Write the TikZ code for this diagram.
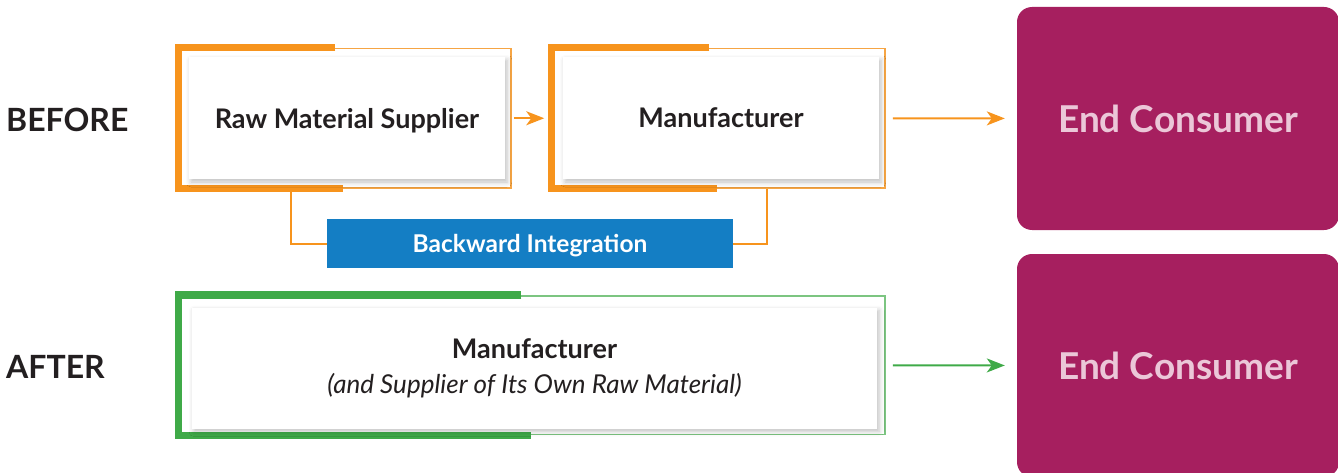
\documentclass[tikz,border=0pt]{standalone}
\usepackage{fontspec}
\setmainfont{Lato}
\usetikzlibrary{shadows.blur,arrows.meta}
\definecolor{orangebar}{HTML}{F7941D}
\definecolor{orangeline}{HTML}{F6A544}
\definecolor{greenbar}{HTML}{3FAA48}
\definecolor{greenline}{HTML}{7CC581}
\definecolor{bluebar}{HTML}{147EC4}
\definecolor{plum}{HTML}{A61F5F}
\definecolor{pinktext}{HTML}{EBC7D8}
\definecolor{ink}{HTML}{231F20}
\begin{document}
\begin{tikzpicture}[x=1pt,y=-1pt]
		\tikzstyle{frame}=[draw,line width=1.5pt,inner sep=0pt]
		\tikzstyle{bracket}=[line width=7.5pt,line cap=butt,line join=miter]
		\tikzstyle{card}=[fill=white,inner sep=0pt,align=center,text=ink,
			blur shadow={shadow xshift=2pt,shadow yshift=-3pt,shadow blur radius=5pt,shadow opacity=25}]
		\tikzstyle{consumer}=[fill=plum,rounded corners=15pt,minimum width=322pt,
			minimum height=223pt,text=pinktext,text depth=0pt,font=\fontsize{37}{40}\selectfont\bfseries]
		\tikzstyle{phase}=[anchor=west,inner sep=0pt,text=ink,font=\fontsize{32}{36}\selectfont\bfseries]
		\tikzstyle{wire}=[draw=orangebar,line width=2pt]
		\tikzstyle{flow}=[line width=2pt,-{Stealth[length=18pt,width=14pt,inset=5pt]}]
		\useasboundingbox (0,0) rectangle (1338,473);
		% before
		\node[phase] (before) at (6,120) {BEFORE};
		\node[frame,orangeline,minimum width=332pt,minimum height=139.5pt] (rmsf) at (345,118.25) {};
		\node[frame,orangeline,minimum width=333pt,minimum height=139.5pt] (mfrf) at (718.5,118.25) {};
		\draw[bracket,orangebar] ([xshift=157pt]rmsf.north west) -- (rmsf.north west)
			-- (rmsf.south west) -- ([xshift=165pt]rmsf.south west);
		\draw[bracket,orangebar] ([xshift=158pt]mfrf.north west) -- (mfrf.north west)
			-- (mfrf.south west) -- ([xshift=166pt]mfrf.south west);
		\node[card,minimum width=316pt,minimum height=122pt,text depth=0pt,font=\fontsize{27}{30}\selectfont\bfseries]
			(rms) at (347,118) {Raw Material Supplier};
		\node[card,minimum width=316pt,minimum height=122pt,text depth=0pt,font=\fontsize{27}{30}\selectfont\bfseries]
			(mfr) at (721,118) {Manufacturer};
		\node[consumer] (ec_1) at (1178,118.5) {End Consumer};
		\draw[flow,orangebar,shorten <=2pt,shorten >=7pt] (rmsf) -- (mfrf);
		\draw[flow,orangebar,shorten <=7pt,shorten >=12pt] (mfrf) -- (ec_1);
		\node[fill=bluebar,minimum width=406pt,minimum height=49pt,text=white,text depth=0pt,
			font=\fontsize{24.5}{28}\selectfont\bfseries] (bwd) at (530,243.5) {Backward Integration};
		\draw[wire] ([xshift=113pt]rmsf.south west) |- (bwd.west);
		\draw[wire] ([xshift=216pt]mfrf.south west) |- (bwd.east);
		% after
		\node[phase] (after) at (6,367) {AFTER};
		\node[frame,greenline,minimum width=706pt,minimum height=138.7pt] (ownf) at (532,365.3) {};
		\draw[bracket,greenbar] ([xshift=343pt]ownf.north west) -- (ownf.north west)
			-- (ownf.south west) -- ([xshift=353pt]ownf.south west);
		\node[card,minimum width=685pt,minimum height=121pt,font=\fontsize{27}{35}\selectfont]
			(own) at (534.5,368) {\textbf{Manufacturer}\\\fontsize{26}{35}\selectfont\itshape(and Supplier of Its Own Raw Material)};
		\node[consumer] (ec_2) at (1178,365.5) {End Consumer};
		\draw[flow,greenbar,shorten <=7pt,shorten >=12pt] (ownf) -- (ec_2);
	\end{tikzpicture}
\end{document}
